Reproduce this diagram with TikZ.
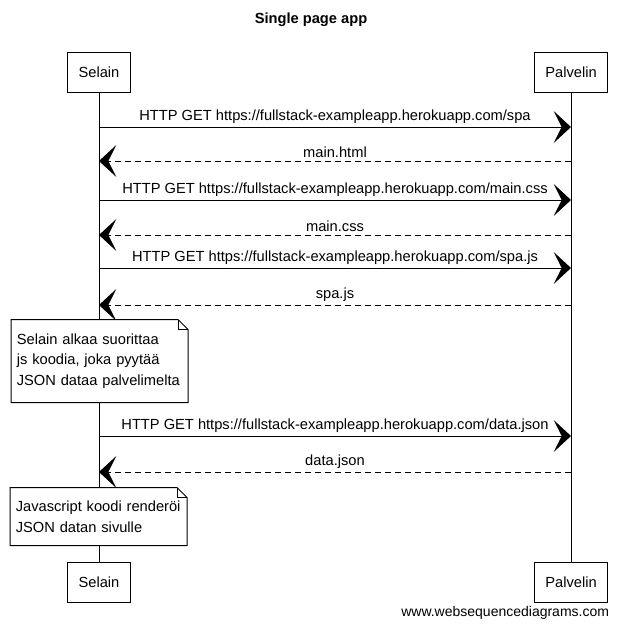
\documentclass[tikz,border=0pt]{standalone}
\usepackage{fontspec}
\setmainfont{Liberation Sans}
\usetikzlibrary{arrows.meta, positioning}

\begin{document}
\begin{tikzpicture}[x=0.75pt, y=-0.75pt, line width=0.75pt, font=\fontsize{11pt}{15.5pt}\selectfont]
    \tikzstyle{actor} = [rectangle, draw, fill=white, minimum height=30pt, inner xsep=8pt]
    \tikzstyle{note} = [rectangle, fill=white, text width=124pt, align=left, inner xsep=4pt]
    \tikzstyle{msg} = [draw, -{Stealth[length=13pt, width=24pt, inset=6pt]}]
    \tikzstyle{reply} = [msg, dash pattern=on 4.5pt off 3pt]
    \tikzstyle{lbl} = [above, inner sep=2pt]

    \useasboundingbox (0,0) rectangle (622,629);
    \node [font=\fontsize{11pt}{13pt}\bfseries] (title) at (311,20) {Single page app};

    % participants
    \node [actor] (selain) at (99,72) {Selain};
    \node [actor] (palvelin) at (571,72) {Palvelin};
    \node [actor] (selainb) at (99,582) {Selain};
    \node [actor] (palvelinb) at (571,582) {Palvelin};

    \draw (selain) -- (selainb);
    \draw (palvelin) -- (palvelinb);

    % message levels
    \coordinate (m1) at (0,127);
    \coordinate (m2) at (0,161);
    \coordinate (m3) at (0,200);
    \coordinate (m4) at (0,235);
    \coordinate (m5) at (0,268);
    \coordinate (m6) at (0,305);
    \coordinate (m7) at (0,436);
    \coordinate (m8) at (0,472);

    \path [msg] (selain |- m1) -- node [lbl] {HTTP GET https://fullstack-exampleapp.herokuapp.com/spa} (palvelin |- m1);
    \path [reply] (palvelin |- m2) -- node [lbl] {main.html} (selain |- m2);
    \path [msg] (selain |- m3) -- node [lbl] {HTTP GET https://fullstack-exampleapp.herokuapp.com/main.css} (palvelin |- m3);
    \path [reply] (palvelin |- m4) -- node [lbl] {main.css} (selain |- m4);
    \path [msg] (selain |- m5) -- node [lbl] {HTTP GET https://fullstack-exampleapp.herokuapp.com/spa.js} (palvelin |- m5);
    \path [reply] (palvelin |- m6) -- node [lbl] {spa.js} (selain |- m6);

    % note: browser runs js
    \node [note, minimum height=61.5pt] (note1) at (99.5,361) {Selain alkaa suorittaa\\ js koodia, joka pyytää\\ JSON dataa palvelimelta};
    \draw (note1.north west) -- ([xshift=-7.5pt]note1.north east) -- ([yshift=-7.5pt]note1.north east) -- (note1.south east) -- (note1.south west) -- cycle;
    \draw ([xshift=-7.5pt]note1.north east) -- ([xshift=-7.5pt, yshift=-7.5pt]note1.north east) -- ([yshift=-7.5pt]note1.north east);

    \path [msg] (selain |- m7) -- node [lbl] {HTTP GET https://fullstack-exampleapp.herokuapp.com/data.json} (palvelin |- m7);
    \path [reply] (palvelin |- m8) -- node [lbl] {data.json} (selain |- m8);

    % note: rendering
    \node [note, minimum height=42.75pt] (note2) at (98.5,516.5) {Javascript koodi renderöi\\ JSON datan sivulle};
    \draw (note2.north west) -- ([xshift=-7.5pt]note2.north east) -- ([yshift=-7.5pt]note2.north east) -- (note2.south east) -- (note2.south west) -- cycle;
    \draw ([xshift=-7.5pt]note2.north east) -- ([xshift=-7.5pt, yshift=-7.5pt]note2.north east) -- ([yshift=-7.5pt]note2.north east);

    \node [anchor=east, font=\fontsize{10.5pt}{12pt}\selectfont] (credit) at (614,613) {www.websequencediagrams.com};
\end{tikzpicture}
\end{document}
